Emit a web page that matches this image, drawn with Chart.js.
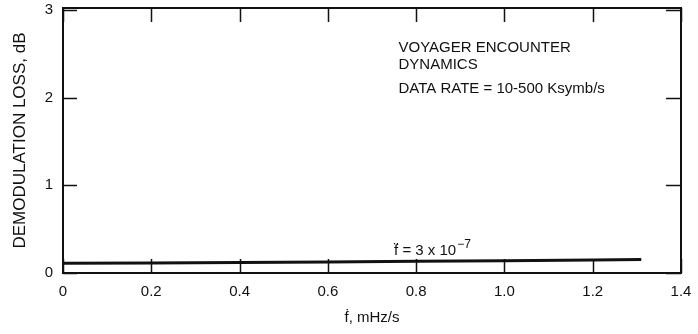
<!DOCTYPE html>
<html>
<head>
    <title>Demodulation loss</title>
    <script src="https://cdn.jsdelivr.net/npm/chart.js"></script>
    <style>
        html, body { margin: 0; padding: 0; background: white; }
        .wrap { width: 698px; height: 334px; }
    </style>
</head>
<body>
    <div class="wrap">
        <canvas id="lossChart" width="698" height="334"></canvas>
    </div>

    <script>
        // values
        const fdotValues = [0, 0.2, 0.4, 0.6, 0.8, 1.0, 1.2, 1.31];
        const lossValues = [0.11, 0.115, 0.12, 0.125, 0.133, 0.14, 0.148, 0.155];
        const xTicks = [0, 0.2, 0.4, 0.6, 0.8, 1.0, 1.2, 1.4];
        const yTicks = [0, 1, 2, 3];
        const noteLines = ['VOYAGER ENCOUNTER', 'DYNAMICS', 'DATA RATE = 10-500 Ksymb/s'];

        const FONT = '"Liberation Sans", Arial, sans-serif';

        // frame, inward ticks on all four sides, and the text notes
        const framePlugin = {
            id: 'frame',
            afterDraw(chart) {
                const ctx = chart.ctx;
                const a = chart.chartArea;
                const xs = chart.scales.x, ys = chart.scales.y;
                ctx.save();
                ctx.strokeStyle = '#111';
                ctx.lineWidth = 2;
                ctx.strokeRect(a.left, a.top, a.right - a.left, a.bottom - a.top);
                ctx.lineWidth = 1.5;
                ctx.beginPath();
                xTicks.forEach(v => {
                    const px = Math.round(xs.getPixelForValue(v)) + 0.5;
                    ctx.moveTo(px, a.bottom); ctx.lineTo(px, a.bottom - 14);
                    ctx.moveTo(px, a.top); ctx.lineTo(px, a.top + 14);
                });
                yTicks.forEach(v => {
                    const py = Math.round(ys.getPixelForValue(v)) + 0.5;
                    ctx.moveTo(a.left, py); ctx.lineTo(a.left + 14, py);
                    ctx.moveTo(a.right, py); ctx.lineTo(a.right - 15, py);
                });
                ctx.stroke();

                ctx.fillStyle = '#111';
                ctx.font = '15px ' + FONT;
                ctx.textBaseline = 'alphabetic';
                const nx = xs.getPixelForValue(0.76);
                ctx.fillText(noteLines[0], nx, 52);
                ctx.fillText(noteLines[1], nx, 69);
                ctx.fillText(noteLines[2], nx, 93);

                // f double-dot label above the curve
                const lx = xs.getPixelForValue(0.75);
                const ly = 255;
                const base = 'f\u0308 = 3 x 10';
                ctx.fillText(base, lx, ly);
                const w = ctx.measureText(base).width;
                ctx.font = '12px ' + FONT;
                ctx.fillText('\u22127', lx + w + 1, ly - 7);
                ctx.restore();
            }
        };

        const ctx = document.getElementById('lossChart').getContext('2d');
        new Chart(ctx, {
            type: 'scatter',
            data: {
                datasets: [{
                    data: fdotValues.map((x, i) => ({ x: x, y: lossValues[i] })),
                    showLine: true,
                    borderColor: '#111',
                    borderWidth: 3,
                    pointRadius: 0,
                    tension: 0
                }]
            },
            options: {
                responsive: false,
                animation: false,
                layout: { padding: { top: 8, right: 17, left: 0, bottom: 0 } },
                plugins: {
                    legend: { display: false },
                    tooltip: { enabled: false }
                },
                scales: {
                    x: {
                        type: 'linear',
                        min: 0,
                        max: 1.4,
                        border: { display: false },
                        grid: { display: false, drawTicks: false },
                        afterBuildTicks: s => { s.ticks = xTicks.map(v => ({ value: v })); },
                        afterFit: s => { s.height = 61; s.paddingLeft = 0; s.paddingRight = 0; },
                        ticks: {
                            padding: 10,
                            color: '#111',
                            font: { family: FONT, size: 15 },
                            callback: v => (v === 0 ? '0' : v.toFixed(1))
                        },
                        title: {
                            display: true,
                            text: '\u1E1F, mHz/s',
                            color: '#111',
                            font: { family: FONT, size: 15 },
                            padding: { top: 0, bottom: 7 }
                        }
                    },
                    y: {
                        type: 'linear',
                        min: 0,
                        max: 3.02,
                        border: { display: false },
                        grid: { display: false, drawTicks: false },
                        afterBuildTicks: s => { s.ticks = yTicks.map(v => ({ value: v })); },
                        afterFit: s => { s.width = 63; s.paddingTop = 0; s.paddingBottom = 0; },
                        ticks: {
                            padding: 10,
                            color: '#111',
                            font: { family: FONT, size: 15 },
                            callback: v => String(v)
                        },
                        title: {
                            display: true,
                            text: 'DEMODULATION LOSS, dB',
                            color: '#111',
                            font: { family: FONT, size: 17 },
                            padding: { top: 10, bottom: 0 }
                        }
                    }
                }
            },
            plugins: [framePlugin]
        });
    </script>
</body>
</html>
